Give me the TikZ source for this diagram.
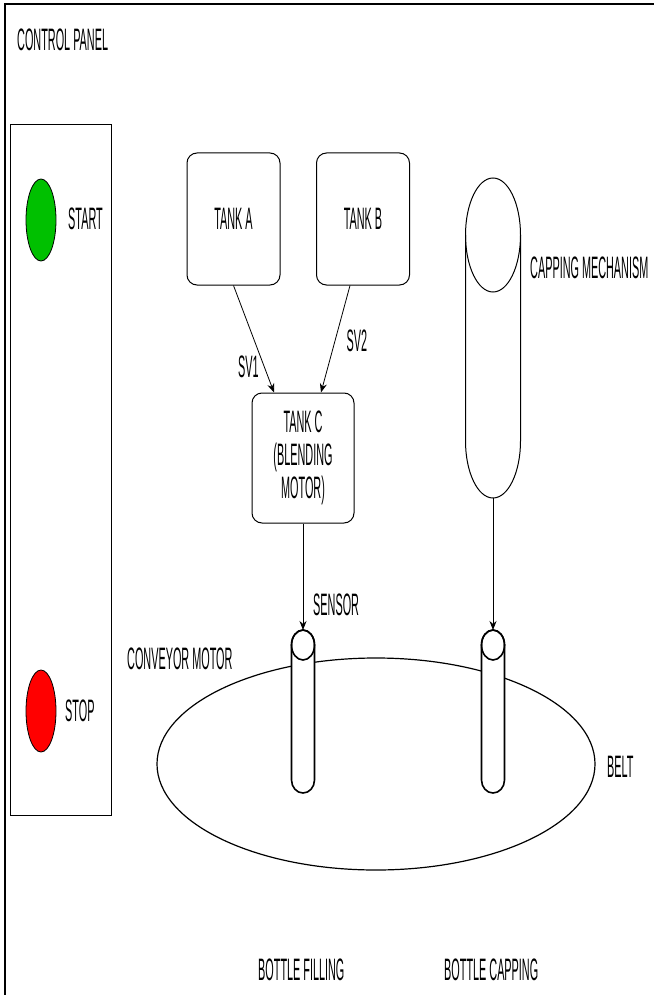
\documentclass[tikz,border=0pt]{standalone}
\usepackage{fontspec}
\setmainfont{Liberation Sans}[FakeStretch=0.35]
\usetikzlibrary{shapes.geometric,arrows.meta}
\definecolor{startgreen}{RGB}{0,192,0}
\definecolor{stopred}{RGB}{255,0,0}

\begin{document}
\begin{tikzpicture}[x=1pt,y=-1pt,font=\fontsize{31}{33}\selectfont,
  tank/.style={draw,rounded corners=10pt,line width=1pt,align=center},
  lbl/.style={anchor=west,inner sep=0pt},
  flow/.style={-{Stealth[length=9pt,width=7pt]},line width=0.8pt},
  button/.style={ellipse,draw,line width=0.8pt,minimum width=30pt,minimum height=82pt,inner sep=0pt},
  bottle/.style={line width=1.6pt,fill=white}]
  \useasboundingbox (0,0) rectangle (654,995);
  \draw[line width=2.5pt] (5,995) -- (5,4) -- (654,4);

  % control panel
  \node[lbl] (panel) at (17,40) {CONTROL PANEL};
  \draw[line width=1pt] (10,125) rectangle (111,815);
  \node[button,fill=startgreen] (start) at (41,220) {};
  \node[lbl] (startlbl) at (68,219) {START};
  \node[button,fill=stopred] (stop) at (41,711) {};
  \node[lbl] (stoplbl) at (65,711) {STOP};

  % tanks
  \node[tank,minimum width=93pt,minimum height=132pt] (tankA) at (233.5,219) {TANK A};
  \node[tank,minimum width=93pt,minimum height=132pt] (tankB) at (363,219) {TANK B};
  \node[tank,minimum width=102pt,minimum height=130pt] (tankC) at (303,458) {TANK C\\(BLENDING\\MOTOR)};
  \draw[flow] (tankA.south) -- ([xshift=-29pt]tankC.north)
        node[pos=0.76,left=2pt] {SV1};
  \draw[flow] ([xshift=-13pt]tankB.south) -- ([xshift=18pt]tankC.north)
        node[pos=0.52,right=8pt] {SV2};

  % capping mechanism
  \draw[line width=1pt,fill=white] (465.5,235) -- (465.5,441)
        arc[start angle=180,end angle=0,x radius=27.5,y radius=57] -- (520.5,235);
  \draw[line width=1pt] (493,235) ellipse[x radius=27.5,y radius=57];
  \coordinate (capbot) at (493,498);
  \node[lbl] (caplbl) at (530,268) {CAPPING MECHANISM};

  % conveyor
  \node[ellipse,draw,line width=1.2pt,minimum width=438pt,minimum height=212pt,inner sep=0pt] (belt) at (376,764) {};
  \foreach \x/\n in {303/fill,493/cap}{
    \draw[bottle] (\x-11.5,645) -- (\x-11.5,780)
          arc[start angle=180,end angle=0,x radius=11.5,y radius=13] -- (\x+11.5,645)
          arc[start angle=0,end angle=-180,x radius=11.5,y radius=15] -- cycle;
    \draw[line width=1.6pt] (\x,645) ellipse[x radius=11.5,y radius=15];
    \coordinate (\n-top) at (\x,630);
  }
  \draw[flow] (tankC) -- (fill-top);
  \draw[flow] (capbot) -- (cap-top);

  \node[lbl] (sensor) at (313,605) {SENSOR};
  \node[lbl] (motor) at (127,659) {CONVEYOR MOTOR};
  \node[lbl] (beltlbl) at (607,767) {BELT};
  \node[lbl] (filling) at (258,970) {BOTTLE FILLING};
  \node[lbl] (capping) at (444,970) {BOTTLE CAPPING};
\end{tikzpicture}
\end{document}
